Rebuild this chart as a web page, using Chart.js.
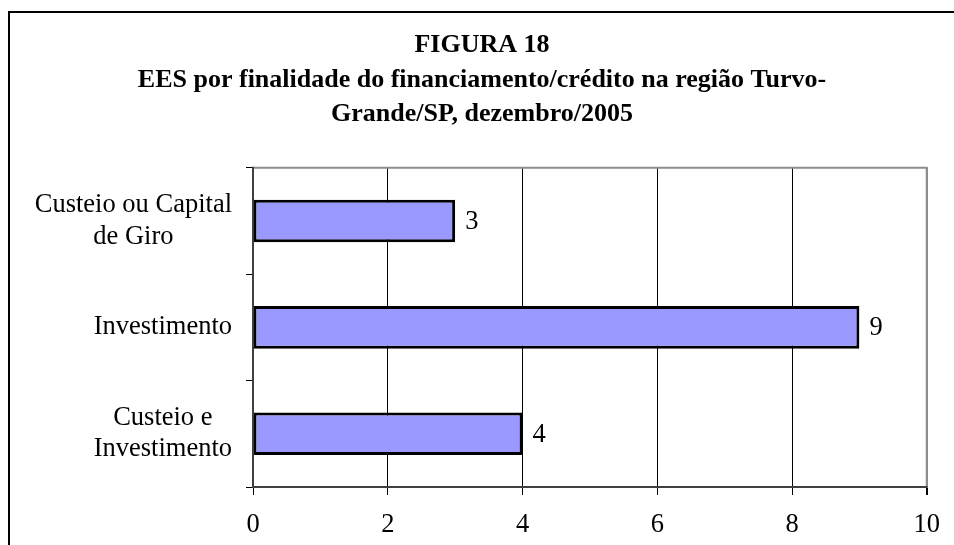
<!DOCTYPE html>
<html>
<head>
<meta charset="utf-8">
<script src="https://cdn.jsdelivr.net/npm/chart.js@4/dist/chart.umd.min.js"></script>
<style>
  html, body { margin: 0; padding: 0; background: #fff; }
  #wrap { position: relative; width: 954px; height: 545px; }
</style>
</head>
<body>
<div id="wrap"><canvas id="c" width="954" height="545"></canvas></div>
<script>
const titleLines = ['FIGURA 18', 'EES por finalidade do financiamento/crédito na região Turvo-', 'Grande/SP, dezembro/2005'];
const categories = [['Custeio ou Capital', 'de Giro'], ['Investimento'], ['Custeio e', 'Investimento']];
const values = [3, 9, 4];
const xMin = 0, xMax = 10, xStep = 2;

const SERIF = '"Liberation Serif", "Times New Roman", serif';
const LABEL_SIZE = 26.5;

const framePlugin = {
  id: 'frame',
  beforeDraw(chart) {
    const ctx = chart.ctx;
    ctx.save();
    ctx.fillStyle = '#fff';
    ctx.fillRect(0, 0, chart.width, chart.height);
    ctx.strokeStyle = '#000';
    ctx.lineWidth = 2;
    ctx.beginPath();
    ctx.moveTo(9, chart.height + 2);
    ctx.lineTo(9, 12);
    ctx.lineTo(chart.width + 2, 12);
    ctx.stroke();
    ctx.restore();
  },
  afterDraw(chart) {
    const ctx = chart.ctx;
    const a = chart.chartArea;
    ctx.save();
    ctx.strokeStyle = '#8c8c8c';
    ctx.lineWidth = 2;
    ctx.beginPath();
    ctx.moveTo(a.left, a.top);
    ctx.lineTo(a.right, a.top);
    ctx.lineTo(a.right, a.bottom);
    ctx.stroke();
    ctx.strokeStyle = '#404040';
    ctx.beginPath();
    ctx.moveTo(a.left, a.top - 1);
    ctx.lineTo(a.left, a.bottom);
    ctx.lineTo(a.right + 1, a.bottom);
    ctx.stroke();

    const y = chart.scales.y;
    ctx.fillStyle = '#000';
    ctx.font = LABEL_SIZE + 'px ' + SERIF;
    ctx.textAlign = 'center';
    ctx.textBaseline = 'middle';
    const lh = 31.5;
    const rightEdge = a.left - 21;
    categories.forEach((lines, i) => {
      const arr = Array.isArray(lines) ? lines : [lines];
      const w = Math.max(...arr.map(t => ctx.measureText(t).width));
      const cx = rightEdge - w / 2;
      const cy = y.getPixelForTick(i);
      const top = cy - (arr.length - 1) * lh / 2;
      arr.forEach((t, k) => ctx.fillText(t, cx, top + k * lh));
    });

    const meta = chart.getDatasetMeta(0);
    ctx.textAlign = 'left';
    meta.data.forEach((bar, i) => {
      ctx.fillText(String(values[i]), bar.x + 10, bar.y + 1);
    });
    ctx.restore();
  }
};

new Chart(document.getElementById('c'), {
  type: 'bar',
  data: {
    labels: categories,
    datasets: [{
      data: values,
      backgroundColor: '#9999ff',
      borderColor: '#000',
      borderWidth: 3,
      borderSkipped: false,
      barPercentage: 0.4,
      categoryPercentage: 1.0
    }]
  },
  options: {
    indexAxis: 'y',
    responsive: false,
    animation: false,
    devicePixelRatio: 1,
    layout: { padding: { left: 29, right: 19, top: 0, bottom: 0 } },
    plugins: {
      legend: { display: false },
      tooltip: { enabled: false },
      title: {
        display: true,
        text: titleLines,
        color: '#000',
        font: { family: SERIF, size: 26, weight: 'bold', lineHeight: 1.33 },
        padding: { top: 28, bottom: 36 }
      }
    },
    scales: {
      x: {
        type: 'linear',
        min: xMin,
        max: xMax,
        ticks: {
          stepSize: xStep,
          color: '#000',
          font: { family: SERIF, size: LABEL_SIZE },
          padding: 14,
          maxRotation: 0
        },
        grid: {
          color: (c) => (c.tick && c.tick.value === xMax) ? '#8c8c8c' : '#000',
          lineWidth: (c) => (c.tick && c.tick.value === xMax) ? 2 : 1,
          tickColor: '#000',
          tickLength: 8,
          drawTicks: true
        },
        border: { display: true, color: '#404040', width: 2 },
        afterFit(scale) { scale.height = 58; }
      },
      y: {
        type: 'category',
        ticks: { display: false },
        grid: {
          offset: true,
          drawOnChartArea: false,
          drawTicks: true,
          tickLength: 7,
          color: '#000',
          tickColor: '#000'
        },
        border: { display: true, color: '#404040', width: 2 },
        afterFit(scale) { scale.width = 224; }
      }
    }
  },
  plugins: [framePlugin]
});
</script>
</body>
</html>
